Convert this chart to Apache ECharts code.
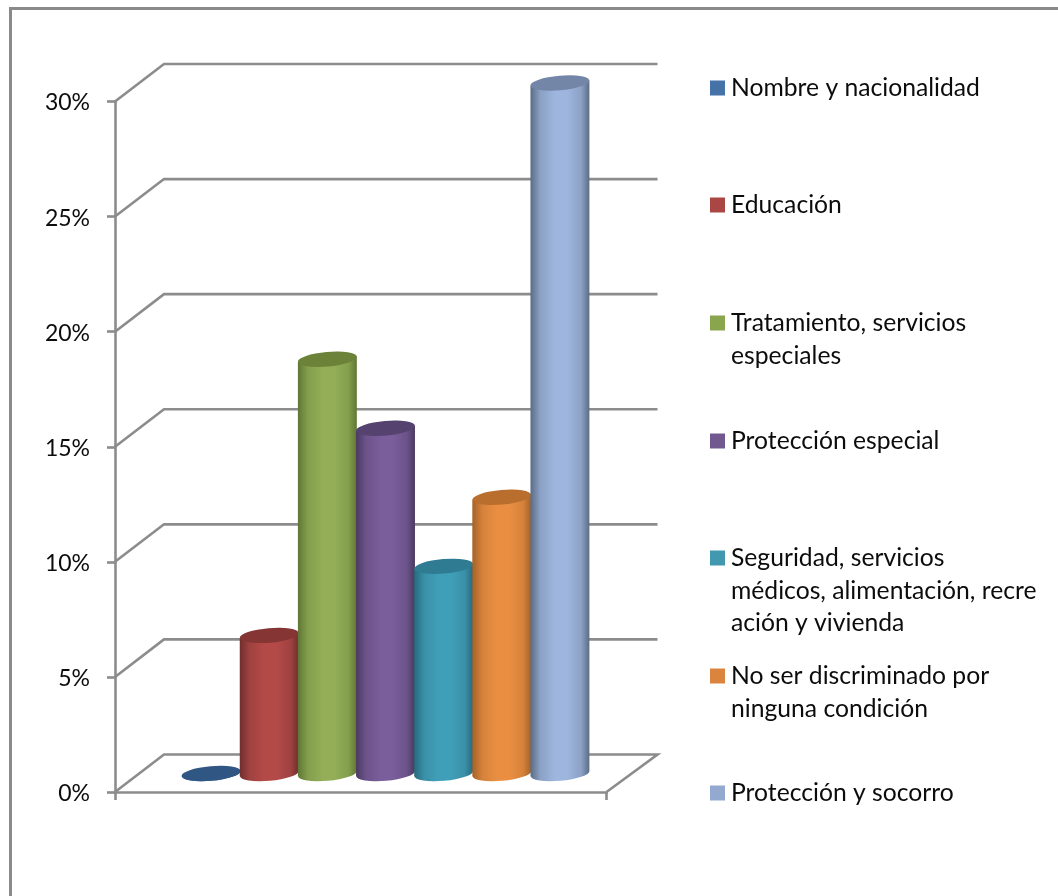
<!DOCTYPE html>
<html>
<head>
<meta charset="utf-8">
<style>html,body{margin:0;padding:0;background:#fff}#c{width:1058px;height:896px}</style>
<script src="https://cdn.jsdelivr.net/npm/echarts@6/dist/echarts.min.js"></script>
</head>
<body>
<div id="c"></div>
<script>
const categories = ['Nombre y nacionalidad','Educación','Tratamiento, servicios especiales','Protección especial','Seguridad, servicios médicos, alimentación, recreación y vivienda','No ser discriminado por ninguna condición','Protección y socorro'];
const values = [0, 0.06, 0.18, 0.15, 0.09, 0.12, 0.30];
const tickValues = [0, 0.05, 0.10, 0.15, 0.20, 0.25, 0.30];
const legendLines = [
  ['Nombre y nacionalidad'],
  ['Educación'],
  ['Tratamiento, servicios','especiales'],
  ['Protección especial'],
  ['Seguridad, servicios','médicos, alimentación, recre','ación y vivienda'],
  ['No ser discriminado por','ninguna condición'],
  ['Protección y socorro']
];

const swatch = ['#4572A7','#AA4643','#89A54E','#71588F','#4198AF','#DB843D','#93A9CF'];
const bright = ['#4F81BD','#B34A48','#93AE57','#7A5D9B','#409FB8','#EA8F42','#9EB6DE'];
const edge   = ['#2F5584','#6E2E2C','#5E7634','#49395F','#27697D','#A46228','#5A6B84'];
const topCol = ['#305683','#853534','#6B8238','#56426F','#2F7C92','#B96E2E','#7486A8'];
const legendCenterY = [87.5, 204.5, 322.5, 440.5, 557.5, 675.5, 792.5];
const FONT = 'Lato';
const AXIS = '#8C8C8C';
const DX = 49, DY = -37.5, TILT = 5 * Math.PI / 180, RY = 7.3;

function wallItem(params, api) {
  const cs = params.coordSys;
  const y = api.coord([0, api.value(0)])[1];
  const x0 = cs.x, x1 = cs.x + cs.width;
  const pts = [[x0, y], [x0 + DX, y + DY], [x1 + 51, y + DY]];
  if (api.value(0) === 0) pts.push([x1, y]);
  return {type: 'polyline', shape: {points: pts}, style: {stroke: AXIS, lineWidth: 2.6, fill: null}};
}
function cylinderItem(i) {
  return function (params, api) {
    const base = api.coord([api.value(0), 0]);
    const top = api.coord([api.value(0), api.value(1)]);
    const rx = api.size([1, 0])[0] / 2 + 0.5;
    const ex = rx * Math.cos(TILT), ey = rx * Math.sin(TILT);
    const rot = -TILT * 180 / Math.PI;
    const cx = base[0];
    const side = `M${cx - ex} ${top[1] + ey}L${cx + ex} ${top[1] - ey}L${cx + ex} ${base[1] - ey}` +
      `A${rx} ${RY} ${rot} 0 1 ${cx - ex} ${base[1] + ey}Z`;
    const cap = `M${cx - ex} ${top[1] + ey}A${rx} ${RY} ${rot} 0 1 ${cx + ex} ${top[1] - ey}` +
      `A${rx} ${RY} ${rot} 0 1 ${cx - ex} ${top[1] + ey}Z`;
    const mid = echarts.color.lerp(0.72, [edge[i], bright[i]]);
    const grad = new echarts.graphic.LinearGradient(0, 0, 1, 0, [
      {offset: 0, color: edge[i]}, {offset: 0.17, color: mid},
      {offset: 0.42, color: bright[i]}, {offset: 0.62, color: bright[i]},
      {offset: 0.86, color: mid}, {offset: 1, color: edge[i]}
    ]);
    return {type: 'group', children: [
      {type: 'path', shape: {pathData: side}, style: {fill: grad}},
      {type: 'path', shape: {pathData: cap}, style: {fill: topCol[i]}}
    ]};
  };
}

const series = [{
  name: 'walls', type: 'custom', xAxisIndex: 0, yAxisIndex: 0, z: 1,
  silent: true, renderItem: wallItem, data: tickValues.map(v => [v]), encode: {y: 0}
}];
categories.forEach((name, i) => {
  series.push({
    name, type: 'custom', xAxisIndex: 1, yAxisIndex: 1, z: 3 + i,
    itemStyle: {color: swatch[i]}, renderItem: cylinderItem(i),
    data: [[i, values[i]]], encode: {x: 0, y: 1}
  });
});

const LH = 32.7;
const legends = categories.map((name, i) => {
  const n = legendLines[i].length;
  const blanks = new Array(n - 1).fill('');
  const text = blanks.concat(legendLines[i]).join('\n');
  const total = (2 * n - 1) * LH;
  return {
    data: [name], selectedMode: false, orient: 'vertical', icon: 'rect',
    left: 710, top: legendCenterY[i] - total / 2,
    itemWidth: 15, itemHeight: 15, itemGap: 0, padding: 0,
    formatter: () => text,
    textStyle: {fontFamily: FONT, fontSize: 24.7, color: '#0c0c0c', lineHeight: LH, padding: [1, 0, 0, 1]}
  };
});

const chart = echarts.init(document.getElementById('c'), null, {renderer: 'canvas'});
chart.setOption({
  animation: false,
  backgroundColor: '#fff',
  graphic: [
    {type: 'rect', silent: true, shape: {x: 9, y: 7, width: 1049, height: 3}, style: {fill: '#8A8A8A'}},
    {type: 'rect', silent: true, shape: {x: 9, y: 7, width: 3, height: 889}, style: {fill: '#8A8A8A'}}
  ],
  legend: legends,
  grid: [
    {left: 115, top: 101.5, width: 491.5, height: 690.5},
    {left: 182, top: 83, width: 407, height: 690.5}
  ],
  xAxis: [
    {type: 'category', gridIndex: 0, data: [''], boundaryGap: true,
     axisLine: {lineStyle: {color: AXIS, width: 2.6}},
     axisTick: {show: true, alignWithLabel: false, length: 8, lineStyle: {color: AXIS, width: 2.6}},
     axisLabel: {show: false}},
    {type: 'category', gridIndex: 1, data: categories, show: false}
  ],
  yAxis: [
    {type: 'value', gridIndex: 0, min: 0, max: 0.3, interval: 0.05,
     axisLine: {show: true, lineStyle: {color: AXIS, width: 2.6}},
     axisTick: {show: true, length: 8, lineStyle: {color: AXIS, width: 2.6}},
     splitLine: {show: false},
     axisLabel: {margin: 25, fontFamily: FONT, fontSize: 23, color: '#0c0c0c', verticalAlign: 'top', lineHeight: 3,
       formatter: v => Math.round(v * 100) + '%'}},
    {type: 'value', gridIndex: 1, min: 0, max: 0.3, interval: 0.05, show: false, splitLine: {show: false}}
  ],
  series
});
</script>
</body>
</html>
